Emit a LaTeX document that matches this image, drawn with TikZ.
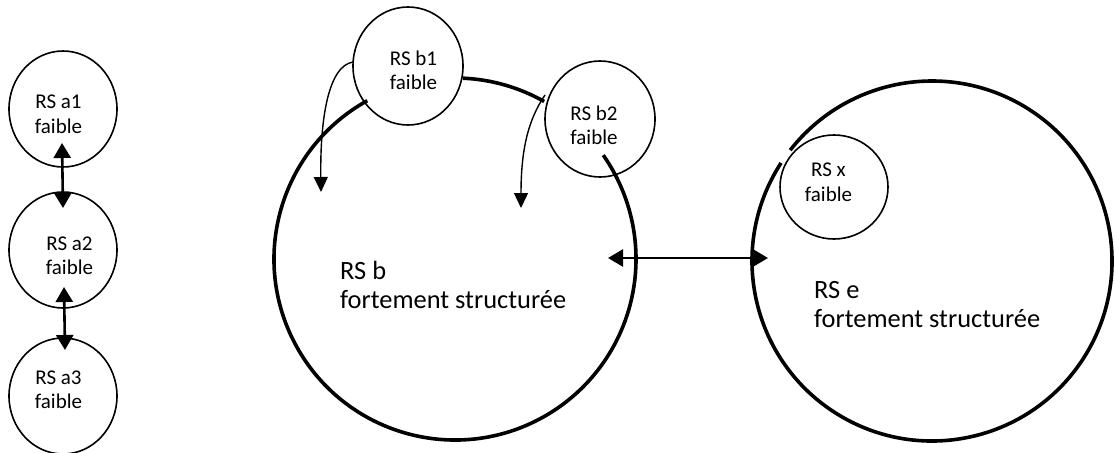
\documentclass[tikz,border=0pt]{standalone}
\usepackage{fontspec}
\setmainfont{Carlito}
\usetikzlibrary{arrows.meta,shapes.geometric,calc}
\tikzset{
  small/.style={draw=black, line width=1.6pt, ellipse, inner sep=0pt},
  smalltxt/.style={align=center, inner sep=0pt, font=\fontsize{21}{24.5}\selectfont},
  bigtxt/.style={align=left, inner sep=0pt, anchor=west, font=\fontsize{26.4}{29}\selectfont},
  bigline/.style={line width=3.6pt},
  dbl/.style={line width=2.6pt, {Triangle[length=15pt,width=17pt]}-{Triangle[length=15pt,width=17pt]}},
  thin/.style={line width=1.4pt, -{Triangle[length=15pt,width=14pt]}}
}
\begin{document}
\begin{tikzpicture}[x=1pt,y=-1pt]
\useasboundingbox (0,0) rectangle (1115,452);
% big circles
\coordinate (bc) at (455,259);
\coordinate (ec) at (932,261);
\draw[bigline] ($(bc)+(-119:181)$) arc[start angle=-119, end angle=-395, radius=181];
\draw[bigline] ($(bc)+(-60.5:181)$) arc[start angle=-60.5, end angle=-87.5, radius=181];
\draw[bigline] ($(ec)+(-147:180)$) arc[start angle=-147, end angle=-502, radius=180];
% small circles
\node[small, minimum width=108pt, minimum height=116pt] (a1) at (63,109) {};
\node[small, minimum width=108pt, minimum height=116pt] (a2) at (63,250) {};
\node[small, minimum width=108pt, minimum height=116pt] (a3) at (63,396) {};
\node[small, minimum width=110pt, minimum height=118pt] (b1) at (408,66) {};
\node[small, minimum width=110pt, minimum height=116pt] (b2) at (600,119) {};
\node[small, minimum width=108pt, minimum height=104pt] (x) at (834,187) {};
% labels
\node[smalltxt] (ta1) at (58.5,114.5) {RS a1\\faible};
\node[smalltxt] (ta2) at (69.5,256) {RS a2\\faible};
\node[smalltxt] (ta3) at (58.5,390) {RS a3\\faible};
\node[smalltxt] (tb1) at (413.5,70.5) {RS b1\\faible};
\node[smalltxt] (tb2) at (594,125.5) {RS b2\\faible};
\node[smalltxt] (tx) at (828.5,182.5) {RS x\\faible};
\node[bigtxt] (tb) at (340,285) {RS b\\fortement structurée};
\node[bigtxt] (te) at (814,305) {RS e\\fortement structurée};
% connector end points
\coordinate (a12s) at (62,143);
\coordinate (a12e) at (63,208);
\coordinate (a23s) at (64,287);
\coordinate (a23e) at (65,350);
\coordinate (bes) at (608,258);
\coordinate (bee) at (768,258);
\coordinate (b1s) at (353,62);
\coordinate (b1e) at (321,192);
\coordinate (b2s) at (545,95);
\coordinate (b2e) at (521,208);
% connectors
\draw[dbl] (a12s) -- (a12e);
\draw[dbl] (a23s) -- (a23e);
\draw[dbl] (bes) -- (bee);
\draw[thin] (b1s) .. controls (328,66) and (320,120) .. (b1e);
\draw[thin] (b2s) .. controls (528,120) and (521,150) .. (b2e);
\end{tikzpicture}
\end{document}
